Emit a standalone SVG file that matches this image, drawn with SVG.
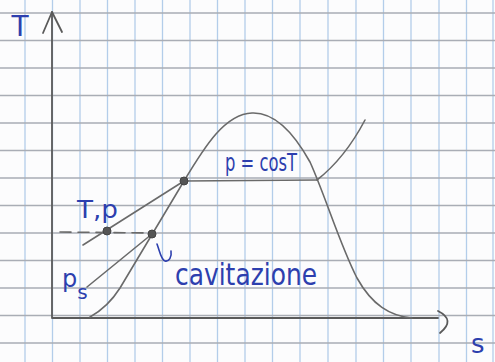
<svg xmlns="http://www.w3.org/2000/svg" width="495" height="362" viewBox="0 0 495 362">
<style>
.vg{stroke:#b3cdea;stroke-width:1.3;fill:none}
.hg{stroke:#a9adb5;stroke-width:1.5;fill:none}
.ln{stroke:#6a6a6a;stroke-width:1.6;fill:none;stroke-linecap:round;stroke-linejoin:round}
.ax{stroke:#5a5a5a;stroke-width:1.8;fill:none;stroke-linecap:round;stroke-linejoin:round}
.dot{fill:#555;stroke:#444;stroke-width:1}
.lb{fill:#2d3fae;font-family:"DejaVu Sans","Liberation Sans",sans-serif;font-weight:normal}
</style>
<rect width="495" height="362" fill="#fcfcfd"/>
<g id="grid">
<g class="vg">
<line x1="25" y1="0" x2="25" y2="362"/><line x1="52.5" y1="0" x2="52.5" y2="362"/><line x1="80" y1="0" x2="80" y2="362"/><line x1="107.5" y1="0" x2="107.5" y2="362"/><line x1="135" y1="0" x2="135" y2="362"/><line x1="162.5" y1="0" x2="162.5" y2="362"/><line x1="190" y1="0" x2="190" y2="362"/><line x1="217.5" y1="0" x2="217.5" y2="362"/><line x1="245" y1="0" x2="245" y2="362"/><line x1="272.5" y1="0" x2="272.5" y2="362"/><line x1="300" y1="0" x2="300" y2="362"/><line x1="328" y1="0" x2="328" y2="362"/><line x1="356" y1="0" x2="356" y2="362"/><line x1="383.5" y1="0" x2="383.5" y2="362"/><line x1="411" y1="0" x2="411" y2="362"/><line x1="439" y1="0" x2="439" y2="362"/><line x1="466.5" y1="0" x2="466.5" y2="362"/><line x1="493" y1="0" x2="493" y2="362"/>
</g>
<g class="hg">
<line x1="0" y1="13" x2="495" y2="13"/><line x1="0" y1="40.5" x2="495" y2="40.5"/><line x1="0" y1="68" x2="495" y2="68"/><line x1="0" y1="95.5" x2="495" y2="95.5"/><line x1="0" y1="123" x2="495" y2="123"/><line x1="0" y1="150.5" x2="495" y2="150.5"/><line x1="0" y1="178" x2="495" y2="178"/><line x1="0" y1="205.5" x2="495" y2="205.5"/><line x1="0" y1="233" x2="495" y2="233"/><line x1="0" y1="260.5" x2="495" y2="260.5"/><line x1="0" y1="288" x2="495" y2="288"/><line x1="0" y1="315.5" x2="495" y2="315.5"/><line x1="0" y1="343" x2="495" y2="343"/>
</g>
</g>
<g id="axes" class="ax">
<path d="M52,12 L52,318 L438,318"/>
<path d="M43,33 L52,12 L62,32"/>
<path d="M438,311 Q456,320 440,333"/>
</g>
<g id="connectors" class="ln">
<path id="dome" d="M90,317 Q108,307 120,288 L184,181 C205,146 225,114 252,113 C275,112 295,135 310,162 C325,195 340,245 357,278 C372,305 390,316 412,318"/>
<path id="isobar-high" d="M317,180 Q345,158 365,120"/>
<path id="p-cost" d="M184,181 L317,180"/>
<path id="isobar-Tp" d="M83,245 L184,181"/>
<path id="isobar-ps" d="M87,287 L152,234"/>
<path id="dash" d="M60,232 L150,233" stroke-dasharray="11 7"/>
<path id="hook" d="M157,244 C160,252 161,260 165,261 C169,262 172,257 171,251" stroke="#2d3fae"/>
</g>
<g id="node-sat"><circle class="dot" cx="184" cy="181" r="4"/></g>
<g id="node-Tp"><circle class="dot" cx="107" cy="231" r="4"/></g>
<g id="node-cav"><circle class="dot" cx="152" cy="234" r="4"/></g>
<g id="labels">
<text class="lb" x="20" y="36" font-size="28" text-anchor="middle">T</text>
<text class="lb" x="77" y="218" font-size="24" textLength="41" lengthAdjust="spacingAndGlyphs">T,p</text>
<text class="lb" x="62" y="287" font-size="24">p<tspan font-size="20" dy="12">s</tspan></text>
<text class="lb" x="175" y="285" font-size="31" textLength="142" lengthAdjust="spacingAndGlyphs">cavitazione</text>
<text class="lb" x="225" y="171" font-size="24" textLength="72" lengthAdjust="spacingAndGlyphs">p = cosT</text>
<text class="lb" x="471" y="353" font-size="26">s</text>
</g>
</svg>
